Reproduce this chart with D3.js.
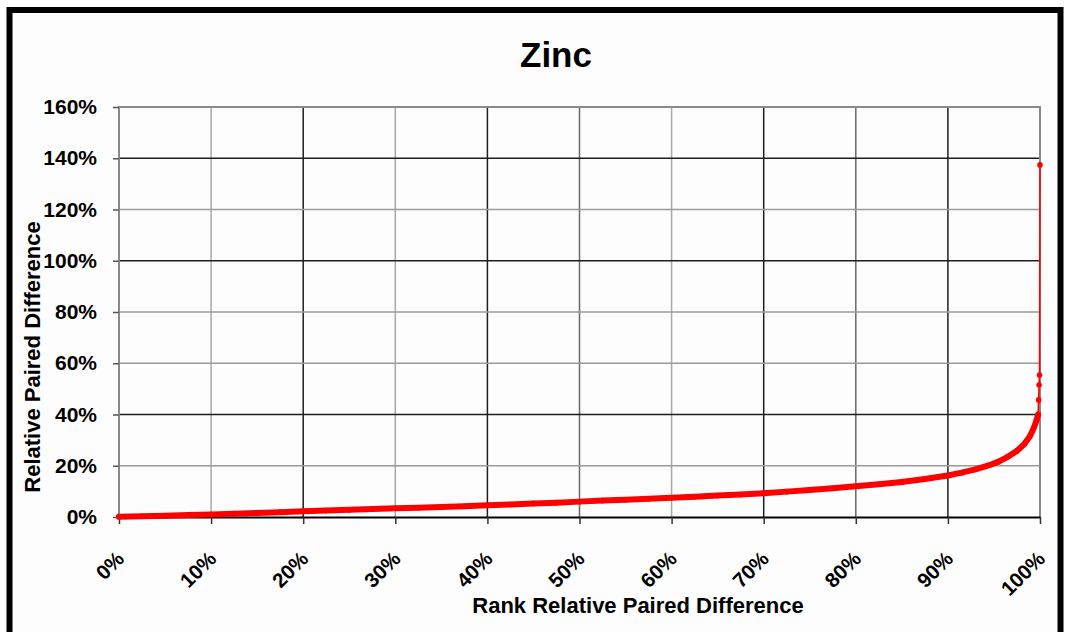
<!DOCTYPE html>
<html>
<head>
<meta charset="utf-8">
<script src="https://cdn.jsdelivr.net/npm/d3@7"></script>
<style>
  html, body { margin: 0; padding: 0; background: #ffffff; }
  svg { display: block; }
  text { font-family: "Liberation Sans", Arial, sans-serif; font-weight: bold; fill: #000; }
</style>
</head>
<body>
<svg id="chart" width="1066" height="632"></svg>
<script>
// ---- data ----
const title = "Zinc";
const xTitle = "Rank Relative Paired Difference";
const yTitle = "Relative Paired Difference";
const xTicks = [0, 10, 20, 30, 40, 50, 60, 70, 80, 90, 100];
const yTicks = [0, 20, 40, 60, 80, 100, 120, 140, 160];
// rank (%) of each plotted point
const rankPct = [0, 2.5, 5, 7.5, 10, 12.5, 15, 17.5, 20, 22.5, 25, 27.5, 30, 32.5, 35, 37.5,
  40, 42.5, 45, 47.5, 50, 52.5, 55, 57.5, 60, 62.5, 65, 67.5, 70, 72.5, 75, 77.5,
  80, 82.5, 85, 87.5, 90, 91.5, 93, 94.5, 95.5, 96.5, 97.5, 98.3, 98.9, 99.3, 99.6, 99.8,
  99.85, 99.9, 99.95, 100];
// relative paired difference (%) of each plotted point
const relDiff = [0.1, 0.3, 0.5, 0.8, 1.0, 1.3, 1.6, 1.9, 2.2, 2.5, 2.8, 3.1, 3.4, 3.6, 3.9, 4.2,
  4.6, 4.9, 5.3, 5.6, 6.0, 6.4, 6.7, 7.1, 7.5, 7.9, 8.4, 8.8, 9.3, 9.9, 10.5, 11.2,
  12.0, 12.8, 13.7, 14.8, 16.2, 17.3, 18.6, 20.2, 21.6, 23.5, 25.8, 28.5, 31.5, 34.5, 37.5, 40.0,
  45.7, 51.5, 55.4, 137.4];

// ---- layout ----
const svg = d3.select("#chart");
const W = 1066, H = 632;
const plot = { left: 119, right: 1040, top: 107, bottom: 517 };

const x = d3.scaleLinear().domain([0, 100]).range([plot.left, plot.right]);
const y = d3.scaleLinear().domain([0, 160]).range([plot.bottom, plot.top]);

svg.append("rect").attr("x", 0).attr("y", 0).attr("width", W).attr("height", H).attr("fill", "#ffffff");
// outer frame
svg.append("rect").attr("x", 9.5).attr("y", 10).attr("width", 1051).attr("height", 640)
  .attr("fill", "#fdfdfd").attr("stroke", "#000").attr("stroke-width", 6);

// gridlines
const darkV = new Set([20, 40, 70, 90]);
const midV = new Set([50, 80]);
const darkH = new Set([40, 100, 140]);
const g = svg.append("g");
g.selectAll("line.vg").data(xTicks.filter(d => d > 0 && d < 100)).join("line")
  .attr("x1", d => x(d)).attr("x2", d => x(d)).attr("y1", plot.top).attr("y2", plot.bottom)
  .attr("stroke", d => darkV.has(d) ? "#1e1e1e" : (midV.has(d) ? "#6a6a6a" : "#a8a8a8"))
  .attr("stroke-width", 1.5);
g.selectAll("line.hg").data(yTicks.filter(d => d > 0 && d < 160)).join("line")
  .attr("x1", plot.left).attr("x2", plot.right).attr("y1", d => y(d)).attr("y2", d => y(d))
  .attr("stroke", d => darkH.has(d) ? "#1e1e1e" : "#9a9a9a")
  .attr("stroke-width", 1.5);
// plot border (top / right / left gray)
g.append("path")
  .attr("d", `M${plot.left},${plot.bottom}V${plot.top}H${plot.right}V${plot.bottom}`)
  .attr("fill", "none").attr("stroke", "#8a8a8a").attr("stroke-width", 2);

// axes
const yAxis = svg.append("g").attr("transform", `translate(${plot.left},0)`)
  .call(d3.axisLeft(y).tickValues(yTicks).tickFormat(d => d + "%").tickSize(6).tickSizeOuter(0).tickPadding(16));
yAxis.select(".domain").remove();
yAxis.selectAll(".tick line").attr("stroke", "#555").attr("stroke-width", 1.5);
yAxis.selectAll(".tick text").style("font-size", "21px").style("font-family", "'Liberation Sans', Arial, sans-serif")
  .style("font-weight", "bold").attr("fill", "#000");

const xAxis = svg.append("g").attr("transform", `translate(0,${plot.bottom})`)
  .call(d3.axisBottom(x).tickValues(xTicks).tickFormat(d => d + "%").tickSize(7).tickSizeOuter(0));
xAxis.select(".domain").attr("stroke", "#000").attr("stroke-width", 2);
xAxis.selectAll(".tick line").attr("stroke", "#333").attr("stroke-width", 1.5);
xAxis.selectAll(".tick text")
  .style("font-size", "20.5px").style("font-family", "'Liberation Sans', Arial, sans-serif").style("font-weight", "bold")
  .attr("fill", "#000")
  .attr("text-anchor", "end")
  .attr("x", 0).attr("y", 0).attr("dy", null)
  .attr("transform", "translate(6,43) rotate(-45)");

// series
const pts = rankPct.map((r, i) => ({ r, v: relDiff[i] }));
const line = d3.line().x(d => x(d.r)).y(d => y(d.v));
const body = pts.filter(d => d.v <= 40);
svg.append("path").datum(pts).attr("d", line)
  .attr("fill", "none").attr("stroke", "#ff0000").attr("stroke-width", 1.6);
svg.append("path").datum(body).attr("d", line)
  .attr("fill", "none").attr("stroke", "#ff0000").attr("stroke-width", 6)
  .attr("stroke-linejoin", "round").attr("stroke-linecap", "round");
svg.selectAll("circle.pt").data(pts).join("circle")
  .attr("cx", d => x(d.r)).attr("cy", d => y(d.v)).attr("r", 2.8).attr("fill", "#ff0000");

// titles
svg.append("text").attr("x", 556).attr("y", 67).attr("text-anchor", "middle")
  .style("font-size", "35px").text(title);
svg.append("text").attr("x", 638).attr("y", 613).attr("text-anchor", "middle")
  .style("font-size", "22px").text(xTitle);
svg.append("text").attr("transform", "translate(40,357) rotate(-90)").attr("text-anchor", "middle")
  .style("font-size", "22px").text(yTitle);
</script>
</body>
</html>
